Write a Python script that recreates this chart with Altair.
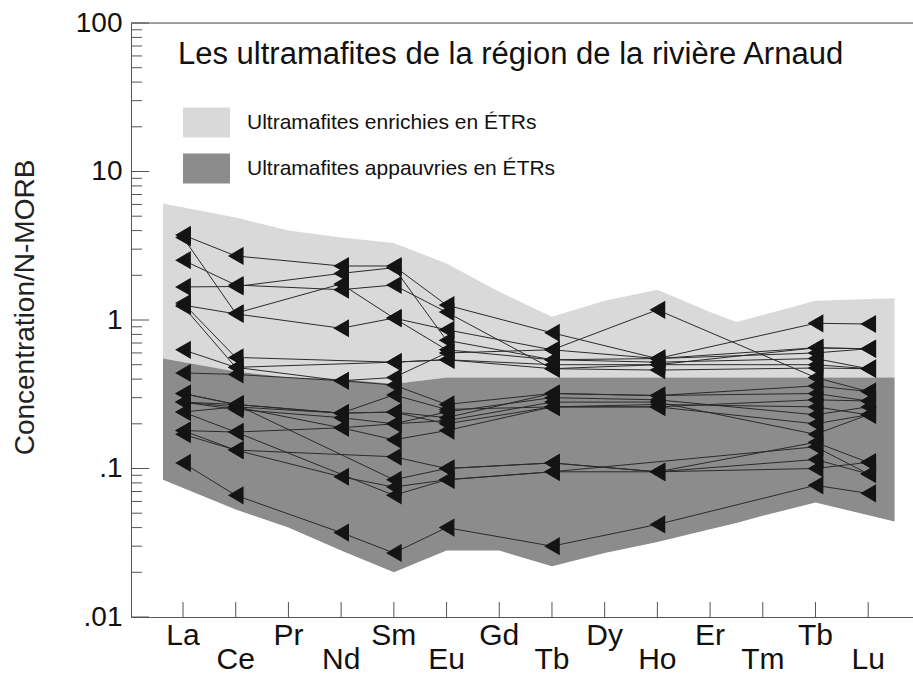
import altair as alt
import pandas as pd

# ---------------- data ----------------
x_labels = ["La", "Ce", "Pr", "Nd", "Sm", "Eu", "Gd", "Tb", "Dy", "Ho", "Er", "Tm", "Tb", "Lu"]
measured = ["La", "Ce", "Nd", "Sm", "Eu", "Tb", "Ho", "Yb", "Lu"]
measured_pos = [0, 1, 3, 4, 5, 7, 9, 12, 13]

# enriched ultramafites (values normalised to N-MORB)
E1 = [3.74, 2.7, 2.31, 2.31, 1.26, 0.82, 0.55, 0.95, 0.94]
E2 = [3.6, 1.11, 1.75, 1.03, 0.86, 0.63, 1.17, 0.41, 0.33]
E3 = [2.53, 1.72, 1.6, 1.72, 1.13, 0.47, 0.5, 0.65, 0.64]
E4 = [1.67, 1.68, 2.06, 2.25, 0.73, 0.54, 0.52, 0.55, 0.47]
E5 = [1.26, 1.1, 0.88, 1.03, 0.63, 0.54, 0.55, 0.65, 0.64]
E6 = [1.3, 0.56, None, 0.52, 0.54, 0.5, 0.5, 0.5, 0.47]
E7 = [1.24, 0.48, 0.39, 0.41, 0.6, 0.63, 0.55, 0.6, 0.64]
E8 = [0.63, 0.48, None, 0.52, 0.54, 0.47, 0.46, 0.475, 0.47]
# depleted ultramafites
D1 = [0.44, 0.43, 0.39, 0.365, 0.27, 0.32, 0.31, 0.36, 0.33]
D2 = [0.32, 0.27, 0.236, 0.313, 0.25, 0.26, 0.26, 0.29, 0.285]
D3 = [0.28, 0.27, 0.236, 0.24, 0.22, 0.32, 0.31, 0.32, 0.285]
D4 = [0.28, 0.26, 0.236, 0.24, 0.2, 0.26, 0.27, 0.26, 0.23]
D5 = [0.24, 0.26, 0.188, 0.2, 0.24, 0.3, 0.29, 0.23, 0.26]
D6 = [0.18, 0.176, 0.188, 0.156, 0.18, 0.26, 0.26, 0.2, 0.23]
D7 = [0.17, 0.133, 0.088, 0.075, 0.084, 0.095, 0.095, 0.115, 0.092]
D8 = [0.109, 0.066, 0.037, 0.027, 0.04, 0.03, 0.042, 0.077, 0.068]
D9 = [0.18, 0.133, None, 0.12, 0.1, 0.109, 0.095, 0.1, 0.11]
D10 = [0.24, 0.176, None, 0.066, 0.084, 0.095, None, 0.14, 0.092]
D11 = [0.32, 0.27, None, 0.084, 0.1, 0.109, 0.095, 0.15, 0.11]
D12 = [0.28, 0.25, 0.22, 0.2, 0.21, 0.28, 0.28, 0.17, 0.23]

samples = {"E1": E1, "E2": E2, "E3": E3, "E4": E4, "E5": E5, "E6": E6, "E7": E7, "E8": E8,
           "D1": D1, "D2": D2, "D3": D3, "D4": D4, "D5": D5, "D6": D6, "D7": D7, "D8": D8,
           "D9": D9, "D10": D10, "D11": D11, "D12": D12}

# envelopes
env_x = [-0.38, 1, 2, 3, 4, 5, 6, 7, 8, 9, 10, 10.5, 11, 12, 13.5]
light_top = [6.1, 4.9, 4.0, 3.6, 3.3, 2.4, 1.55, 1.05, 1.35, 1.6, 1.13, 0.97, 1.08, 1.35, 1.4]
dark_top = [0.55, 0.45, 0.41, 0.40, 0.37, 0.41, 0.41, 0.41, 0.41, 0.41, 0.41, 0.41, 0.41, 0.41, 0.41]
dark_bottom = [0.084, 0.053, 0.040, 0.028, 0.020, 0.028, 0.028, 0.022, 0.027, 0.032, 0.039, 0.043, 0.048, 0.059, 0.044]

enriched_name = "Ultramafites enrichies en ÉTRs"
depleted_name = "Ultramafites appauvries en ÉTRs"
title_text = "Les ultramafites de la région de la rivière Arnaud"
y_title = "Concentration/N-MORB"

major_ticks = [0.01, 0.1, 1, 10, 100]
minor_ticks = [m * d for d in [0.01, 0.1, 1, 10] for m in range(2, 10)]

# ---------------- tables ----------------
rows = []
for name, vals in samples.items():
    for el, pos, v in zip(measured, measured_pos, vals):
        if v is not None:
            rows.append({"sample": name, "element": el, "pos": pos, "value": v})
df = pd.DataFrame(rows)

env_rows = []
for x, lt, dt, db in zip(env_x, light_top, dark_top, dark_bottom):
    env_rows.append({"group": enriched_name, "x": x, "lo": dt, "hi": lt})
    env_rows.append({"group": depleted_name, "x": x, "lo": db, "hi": dt})
env = pd.DataFrame(env_rows)

lab = pd.DataFrame({"label": x_labels, "pos": list(range(len(x_labels)))})
lab["row"] = lab["pos"] % 2

FONT = "Liberation Sans"
W, H = 782, 594
xscale = alt.Scale(domain=[-0.987, 13.85], nice=False, zero=False)
yscale = alt.Scale(type="log", domain=[0.01, 100], nice=False)

xaxis = alt.Axis(title=None, labels=False, ticks=False, grid=False, domainColor="#555", domainWidth=1)
yaxis = alt.Axis(
    title=y_title, values=major_ticks, ticks=False, grid=False,
    domainColor="#555", domainWidth=1,
    labelExpr="datum.value >= 100 ? '100' : datum.value >= 10 ? '10' : datum.value >= 1 ? '1' : datum.value >= 0.1 ? '.1' : '.01'",
    labelFont=FONT, labelFontSize=28, labelColor="#111", labelPadding=9,
    titleFont=FONT, titleFontSize=28, titleFontWeight="normal", titleColor="#222",
    titleX=-106, titleY=284, titleAngle=270, titleAlign="center", titleBaseline="middle",
)

areas = alt.Chart(env).mark_area(opacity=1, strokeWidth=0).encode(
    x=alt.X("x:Q", scale=xscale, axis=xaxis),
    y=alt.Y("hi:Q", scale=yscale, axis=yaxis),
    y2="lo:Q",
    fill=alt.Fill("group:N",
                  scale=alt.Scale(domain=[enriched_name, depleted_name], range=["#d9d9d9", "#8c8c8c"]),
                  legend=alt.Legend(orient="none", legendX=52, legendY=76, title=None,
                                    symbolType="M-1,-0.64H1V0.64H-1Z", symbolSize=2209,
                                    symbolStrokeWidth=0, symbolOpacity=1,
                                    labelFont=FONT, labelFontSize=21, labelColor="#111",
                                    labelLimit=500, labelOffset=17, rowPadding=7, padding=0)),
    detail="group:N",
)

lines = alt.Chart(df).mark_line(color="#2b2b2b", strokeWidth=1).encode(
    x=alt.X("pos:Q", scale=xscale), y=alt.Y("value:Q", scale=yscale), detail="sample:N",
    order="pos:Q",
)
points = alt.Chart(df).mark_point(shape="triangle-left", filled=True, size=330, color="#141414", opacity=1).encode(
    x=alt.X("pos:Q", scale=xscale), y=alt.Y("value:Q", scale=yscale),
)

# inward ticks
ymaj = alt.Chart(pd.DataFrame({"v": major_ticks})).mark_rule(color="#555", strokeWidth=1).encode(
    y=alt.Y("v:Q", scale=yscale), x=alt.value(0), x2=alt.value(18))
ymin = alt.Chart(pd.DataFrame({"v": minor_ticks})).mark_rule(color="#555", strokeWidth=1).encode(
    y=alt.Y("v:Q", scale=yscale), x=alt.value(0), x2=alt.value(11))
xt = alt.Chart(lab).mark_rule(color="#555", strokeWidth=1).encode(
    x=alt.X("pos:Q", scale=xscale), y=alt.value(H), y2=alt.value(H - 15))
top_line = alt.Chart(pd.DataFrame({"v": [100]})).mark_rule(color="#555", strokeWidth=1).encode(
    y=alt.Y("v:Q", scale=yscale), x=alt.value(0), x2=alt.value(W))

lab1 = alt.Chart(lab[lab["row"] == 0]).mark_text(font=FONT, fontSize=30, color="#111", baseline="alphabetic").encode(
    x=alt.X("pos:Q", scale=xscale), y=alt.value(H + 28), text="label:N")
lab2 = alt.Chart(lab[lab["row"] == 1]).mark_text(font=FONT, fontSize=30, color="#111", baseline="alphabetic").encode(
    x=alt.X("pos:Q", scale=xscale), y=alt.value(H + 52), text="label:N")

chart = alt.layer(areas, lines, points, ymaj, ymin, xt, top_line, lab1, lab2).properties(
    width=W, height=H,
    autosize=alt.AutoSizeParams(type="none"),
    padding={"left": 131, "top": 23, "right": 0, "bottom": 58},
    title=alt.TitleParams(title_text, anchor="start", frame="group", orient="top", dx=47, dy=86, offset=0,
                          font=FONT, fontSize=31, fontWeight="normal", color="#111", baseline="alphabetic"),
).configure_view(stroke=None).configure(background="white")

chart.save("out.html", embed_options={"renderer": "svg", "actions": False})
